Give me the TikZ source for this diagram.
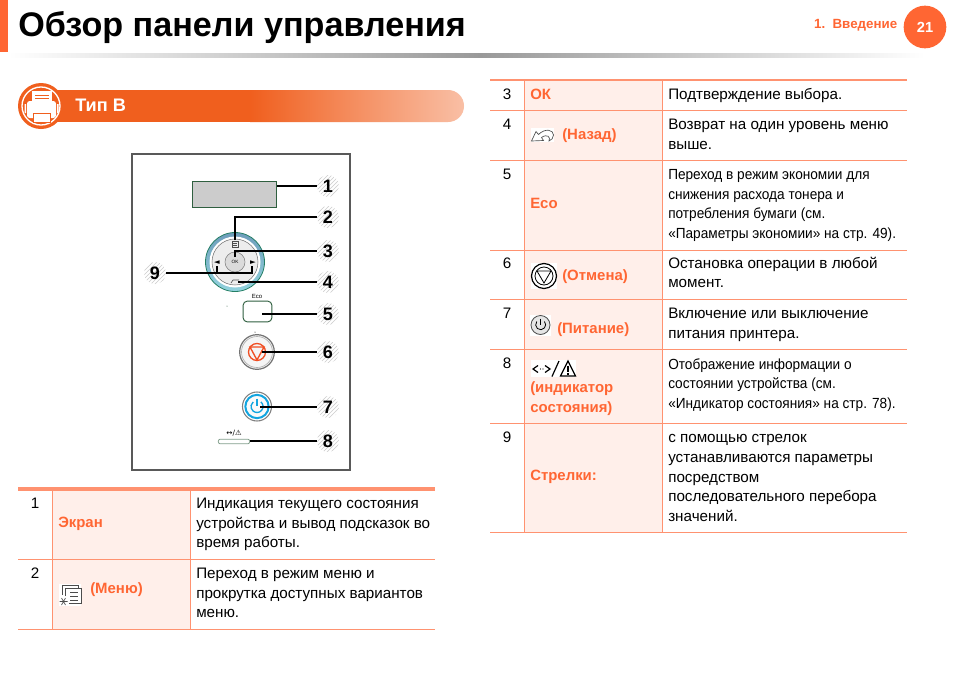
\documentclass[tikz,border=0pt]{standalone}
\usepackage{fontspec}
\setmainfont{Liberation Sans}
\newfontfamily\narrowfont[FakeStretch=0.93]{Liberation Sans}
\newfontfamily\symfont{DejaVu Sans}
\usetikzlibrary{patterns}
\definecolor{accent}{HTML}{FF6633}
\definecolor{rowline}{HTML}{FF9270}
\definecolor{rowfill}{HTML}{FFEFEA}
\definecolor{ribbon}{HTML}{F05F1E}
\definecolor{ledgreen}{HTML}{2F5F3F}
\definecolor{stopred}{HTML}{F04E23}
\definecolor{pwrblue}{HTML}{12A5E0}
\definecolor{dialtop}{HTML}{6E9DBB}
\definecolor{dialbottom}{HTML}{93D3DE}
\tikzset{
  rowtext/.style={anchor=north west,inner sep=0pt,align=left,font=\fontsize{11.4}{14.85}\selectfont},
  smalltext/.style={anchor=north west,inner sep=0pt,align=left,font=\narrowfont\fontsize{11}{14.85}\selectfont},
  rownum/.style={inner sep=0pt,font=\fontsize{11.4}{14.85}\selectfont},
  rowname/.style={anchor=west,inner sep=0pt,align=left,text=accent,font=\bfseries\fontsize{11.2}{14.85}\selectfont},
  badge/.style={circle,minimum size=16.5pt,inner sep=0pt,pattern=north east lines,pattern color=black!20,font=\bfseries\fontsize{13.5}{13.5}\selectfont},
  callout/.style={draw=black,line width=.85pt},
  calloutb/.style={draw=black,line width=1.3pt},
  rowrule/.style={draw=rowline,line width=.7pt},
  icon/.style={draw=black!70,line width=.5pt},
}
\begin{document}
\begin{tikzpicture}[x=.75pt,y=-.75pt]
\useasboundingbox (0,0) rectangle (954,675);
\fill[white] (0,0) rectangle (954,675);

% page header
\fill[accent] (0,0) rectangle (8,52);
\shade[left color=white,right color=black!40] (8,53) rectangle (480,57);
\shade[left color=black!40,right color=white] (480,53) rectangle (925,57);
\node[anchor=west,inner sep=0pt,font=\bfseries\fontsize{25.6}{25.6}\selectfont] (title) at (18,28) {Обзор панели управления};
\node[circle,fill=accent,minimum size=32pt,inner sep=0pt,text=white,font=\bfseries\fontsize{11}{11}\selectfont] (page) at (925,27) {21};
\node[anchor=east,inner sep=0pt,text=accent,font=\bfseries\fontsize{10}{11}\selectfont] (chapter) at (897.5,25) {1.\ \ Введение};

% section ribbon
\fill[ribbon] (35,90) rectangle (250,122);
\shade[left color=ribbon,right color=ribbon!40!white] (250,90) [rounded corners=11.9pt] -- (464,90) -- (464,122) [sharp corners] -- (250,122) -- cycle;
\fill[ribbon] (41,106) circle (23);
\draw[white,line width=1pt] (41,106) circle (19);
\fill[white] (32,91) rectangle (52,102);
\draw[ribbon,line width=.5pt] (35,95) -- (49,95) (35,98) -- (49,98);
\fill[white,rounded corners=2pt] (27,101) rectangle (56,118);
\fill[white] (24.5,104) rectangle (26,113) (57,104) rectangle (58.5,113);
\draw[ribbon,fill=white,line width=.6pt] (33,113) rectangle (50,122);
\node[anchor=west,inner sep=0pt,text=white,font=\bfseries\fontsize{13.6}{13.6}\selectfont] (sect) at (75,105) {Тип В};

% panel
\draw[draw=black!65,line width=1pt] (132,154) rectangle (350,470);
\node[draw=ledgreen,fill=black!20,line width=.7pt,minimum width=63.5pt,minimum height=20pt,inner sep=0pt] (scrn) at (234.5,194.5) {};
\shade[top color=dialtop,bottom color=dialbottom] (235,262) circle (29.5);
\draw[ledgreen!80!cyan,line width=.6pt] (235,262) circle (29.5);
\fill[white] (235,262) circle (25.5);
\fill[black!7] (235,262) circle (23);
\draw[black!55,line width=.4pt] (235,262) circle (23);
\node[circle,draw=black!50,fill=black!14,minimum size=15pt,inner sep=0pt,font=\fontsize{3.5}{4}\selectfont] (okbtn) at (235,262) {OK};
\node[inner sep=0pt,font=\symfont\fontsize{5.5}{5.5}\selectfont] (larrow) at (217,263) {◄};
\node[inner sep=0pt,font=\symfont\fontsize{5.5}{5.5}\selectfont] (rarrow) at (253,263) {►};
\draw[black!70,line width=.5pt] (232,241) rectangle (238,247) (233,243) -- (237,243) (233,245) -- (237,245);
\draw[black!70,line width=.5pt] (231,283) -- (233,280) -- (239,280);
\node[draw=ledgreen,line width=.7pt,rounded corners=3pt,minimum width=21.5pt,minimum height=15.5pt,inner sep=0pt] (eco) at (257.5,311.5) {};
\node[inner sep=0pt,font=\fontsize{4.5}{5}\selectfont] (ecotxt) at (257,296) {Eco};
\node[circle,draw=black!55,fill=black!4,line width=.9pt,minimum size=26pt,inner sep=0pt] (stop) at (257,352) {};
\draw[black!30,line width=.5pt] (stop) circle (15.5);
\draw[stopred,line width=1pt] (stop) circle (8.5);
\draw[stopred,line width=1pt] (250,347) -- (264,347) -- (257,360) -- cycle;
\node[circle,draw=pwrblue,fill=black!2,line width=1.5pt,minimum size=17.5pt,inner sep=0pt] (pwr) at (257,406.5) {};
\draw[black!50,line width=.8pt] (pwr) circle (14.5);
\draw[pwrblue,line width=1pt] (260.9,401.9) arc (-50:230:6);
\draw[pwrblue,line width=1pt] (257,398.5) -- (257,406);
\node[draw=ledgreen!60,line width=.6pt,rounded corners=1.5pt,minimum width=23.5pt,minimum height=3.5pt,inner sep=0pt] (led) at (234,441.5) {};
\node[inner sep=0pt,font=\symfont\fontsize{5.5}{6}\selectfont] (ledtxt) at (234,433) {↔/⚠};

% callouts
\node[badge] (n1) at (328,186) {1};
\node[badge] (n2) at (328,217) {2};
\node[badge] (n3) at (328,251) {3};
\node[badge] (n4) at (328,282) {4};
\node[badge] (n5) at (328,314) {5};
\node[badge] (n6) at (328,352) {6};
\node[badge] (n7) at (328,407) {7};
\node[badge] (n8) at (328,441) {8};
\node[badge] (n9) at (155,273) {9};
\coordinate (menuend) at (235,240);
\coordinate (okend) at (235,257);
\coordinate (backend) at (238,282);
\coordinate (ecoend) at (262,314);
\coordinate (stopend) at (262,352);
\coordinate (pwrend) at (260,407);
\coordinate (leftend) at (217,266);
\coordinate (rightend) at (252,266);
\coordinate (armend) at (252,273);
\draw[callout] (scrn.east |- n1) -- (n1);
\draw[callout] (menuend) |- (n2);
\draw[callout] (okend) |- (n3);
\draw[callout] (backend) -- (n4);
\draw[callout] (ecoend) -- (n5);
\draw[callout] (stopend) -- (n6);
\draw[calloutb] (pwrend) -- (n7);
\draw[calloutb] (led.east |- n8) -- (n8);
\draw[callout] (n9) -- (armend) -- (rightend);
\draw[callout] (leftend) -- (leftend |- armend);
\fill[ledgreen] (227,306) circle (.5);
\fill[black] (255,332) circle (.5);

% left table
\fill[rowfill] (52,489) rectangle (190,629);
\draw[rowline,line width=2.5pt] (18,489) -- (435,489);
\draw[rowrule] (18,559) -- (435,559);
\draw[rowrule] (18,629) -- (435,629);
\draw[rowrule] (52,489) -- (52,629);
\draw[rowrule] (190,489) -- (190,629);
\node[rownum] (la) at (35,503) {1};
\node[rownum] (lb) at (35,573) {2};
\node[rowname] (screenname) at (58,523.5) {Экран};
\node[rowname] (menuname) at (90,589.5) {(Меню)};
\node[rowtext] (screentext) at (196,497.5) {Индикация текущего состояния\\устройства и вывод подсказок во\\время работы.};
\node[rowtext] (menutext) at (196,567.5) {Переход в режим меню и\\прокрутка доступных вариантов\\меню.};
% menu icon
\fill[white] (59,584) rectangle (81,606);
\draw[icon] (62,595) -- (62,585) -- (78,585) -- (78,588);
\draw[icon] (65,596) -- (65,588) -- (81,588) -- (81,603) -- (69,603);
\draw[icon] (70,592) -- (78,592) (70,596) -- (78,596) (70,600) -- (78,600);
\draw[icon] (59.5,601.5) -- (67.5,601.5) (61.5,598) -- (65.5,605) (61.5,605) -- (65.5,598);

% right table
\fill[rowfill] (524,80) rectangle (662,532);
\draw[rowline,line width=1.6pt] (490,80) -- (907,80);
\draw[rowrule] (490,110) -- (907,110);
\draw[rowrule] (490,160) -- (907,160);
\draw[rowrule] (490,250) -- (907,250);
\draw[rowrule] (490,299) -- (907,299);
\draw[rowrule] (490,349) -- (907,349);
\draw[rowrule] (490,423) -- (907,423);
\draw[rowrule] (490,532) -- (907,532);
\draw[rowrule] (524,80) -- (524,532);
\draw[rowrule] (662,80) -- (662,532);
\node[rownum] (ra) at (507,94) {3};
\node[rownum] (rb) at (507,124) {4};
\node[rownum] (rc) at (507,174) {5};
\node[rownum] (rd) at (507,263) {6};
\node[rownum] (re) at (507,313) {7};
\node[rownum] (rf) at (507,363) {8};
\node[rownum] (rg) at (507,437) {9};
\node[rowname] (okname) at (530,94.5) {ОК};
\node[rowname] (backname) at (562,135.5) {(Назад)};
\node[rowname] (econame) at (530,203.5) {Eco};
\node[rowname] (stopname) at (562,276.5) {(Отмена)};
\node[rowname] (pwrname) at (557,329.5) {(Питание)};
\node[rowname] (ledname) at (530,399) {(индикатор\\состояния)};
\node[rowname] (arrowname) at (530,476.5) {Стрелки:};
\node[rowtext] (oktext) at (668,88.5) {Подтверждение выбора.};
\node[rowtext] (backtext) at (668,118.5) {Возврат на один уровень меню\\выше.};
\node[smalltext] (ecotext) at (668,169) {Переход в режим экономии для\\снижения расхода тонера и\\потребления бумаги (см.\\«Параметры экономии» на стр. 49).};
\node[rowtext] (stoptext) at (668,256.5) {Остановка операции в любой\\момент.};
\node[rowtext] (pwrtext) at (668,307.5) {Включение или выключение\\питания принтера.};
\node[smalltext] (ledtext) at (668,358) {Отображение информации о\\состоянии устройства (см.\\«Индикатор состояния» на стр. 78).};
\node[rowtext] (arrowtext) at (668,434) {с помощью стрелок\\устанавливаются параметры\\посредством\\последовательного перебора\\значений.};
% row icons
\fill[white] (531,128) rectangle (554,142);
\draw[icon] (531.5,141) -- (536,131.5) -- (538.5,134.5) .. controls (545,128) and (553.5,129.5) .. (553.5,135) .. controls (553.5,138) and (551.5,140) .. (549,141) .. controls (551,137) and (547,133.5) .. (541.5,137.5) -- (543.5,140.5) -- cycle;
\fill[white] (531,263) rectangle (557,289);
\draw[black,line width=.9pt] (544,276) circle (12.5);
\draw[black,line width=.6pt] (544,276) circle (9);
\draw[black,line width=.6pt] (537,271) -- (551,271) -- (544,283) -- cycle;
\fill[white] (530,315) rectangle (551,336);
\draw[black!70,fill=black!10,line width=.6pt] (540.5,325) circle (9.5);
\draw[black,line width=.6pt] (536.8,321.5) arc (-140:-400:5);
\draw[black,line width=.6pt] (540.5,318.5) -- (540.5,325);
% indicator icon
\fill[white] (531,360) rectangle (576,377);
\draw[black,line width=.9pt] (538,365.5) -- (533,369) -- (538,372.5);
\draw[black,line width=.9pt] (545,365.5) -- (550,369) -- (545,372.5);
\fill[black] (540.5,369) circle (.7) (543,369) circle (.7);
\draw[black,line width=.9pt] (552,376.5) -- (559,361);
\draw[black,line width=.9pt] (568,361) -- (575.5,376) -- (560.5,376) -- cycle;
\draw[black,line width=.9pt] (568,366) -- (568,371.5) (568,373) -- (568,374.5);
\end{tikzpicture}
\end{document}
